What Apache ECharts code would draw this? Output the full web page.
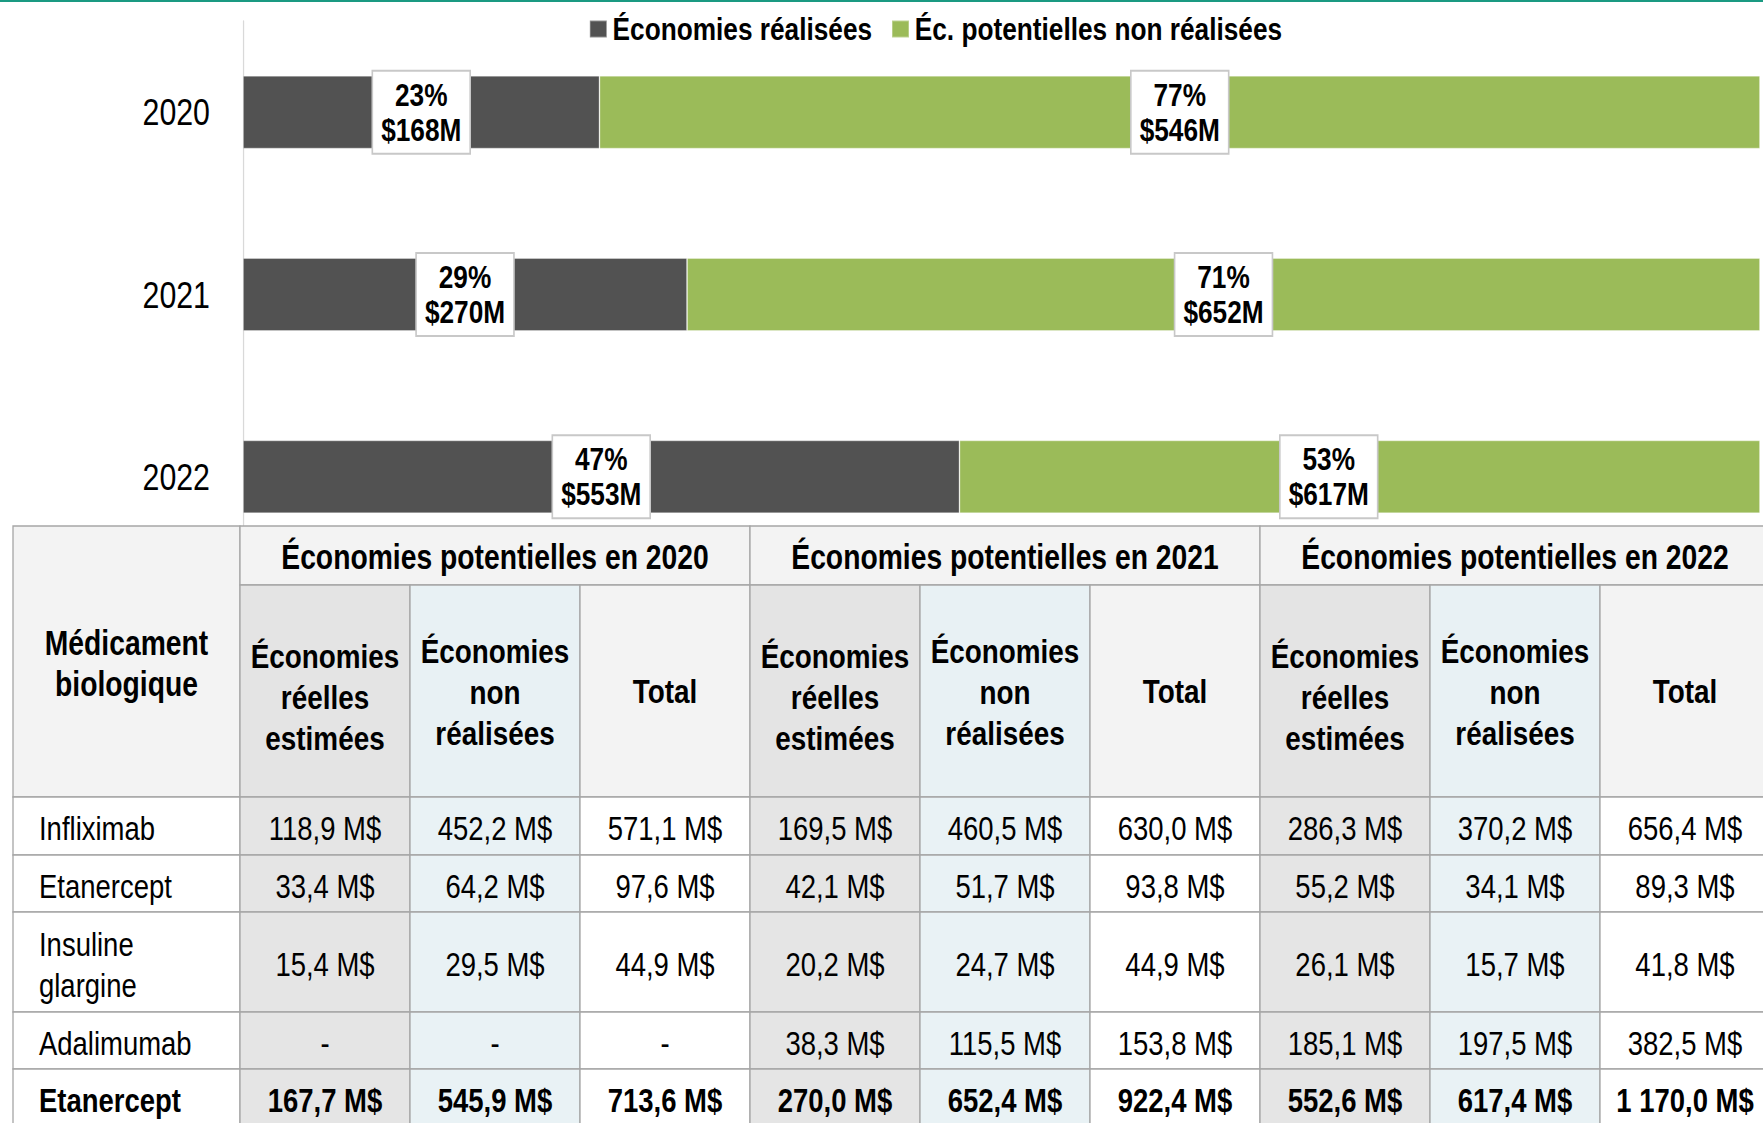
<!DOCTYPE html>
<html>
<head>
<meta charset="utf-8">
<script src="https://cdn.jsdelivr.net/npm/echarts@6/dist/echarts.min.js"></script>
<style>
html,body{margin:0;padding:0;background:#fff;overflow:hidden;}
#wrap{position:relative;width:1763px;height:1123px;overflow:hidden;}
#chart{position:absolute;left:0;top:0;width:2150px;height:1123px;transform:scaleX(0.82);transform-origin:0 0;}
</style>
</head>
<body>
<div id="wrap"><div id="chart"></div></div>
<script>
// ---------- data ----------
const years = ['2020', '2021', '2022'];
const realizedTotals = [167.7, 270.0, 552.6];
const unrealizedTotals = [545.9, 652.4, 617.4];
const realizedPct = ['23%', '29%', '47%'];
const unrealizedPct = ['77%', '71%', '53%'];
const realizedAmt = ['$168M', '$270M', '$553M'];
const unrealizedAmt = ['$546M', '$652M', '$617M'];
const legendNames = ['Économies réalisées', 'Éc. potentielles non réalisées'];

const groupTitles = ['Économies potentielles en 2020', 'Économies potentielles en 2021', 'Économies potentielles en 2022'];
const subHeaders = ['Économies\nréelles\nestimées', 'Économies\nnon\nréalisées', 'Total'];
const drugHeader = 'Médicament\nbiologique';
const drugNames = ['Infliximab', 'Etanercept', 'Insuline\nglargine', 'Adalimumab', 'Etanercept'];
// per year: [estimated real, non-realized, total] per drug row (last row = total row)
const real2020 = [118.9, 33.4, 15.4, null, 167.7];
const nonReal2020 = [452.2, 64.2, 29.5, null, 545.9];
const total2020 = [571.1, 97.6, 44.9, null, 713.6];
const real2021 = [169.5, 42.1, 20.2, 38.3, 270.0];
const nonReal2021 = [460.5, 51.7, 24.7, 115.5, 652.4];
const total2021 = [630.0, 93.8, 44.9, 153.8, 922.4];
const real2022 = [286.3, 55.2, 26.1, 185.1, 552.6];
const nonReal2022 = [370.2, 34.1, 15.7, 197.5, 617.4];
const total2022 = [656.4, 89.3, 41.8, 382.5, 1170.0];

// ---------- helpers ----------
const SX = 0.82; // horizontal squeeze of the whole drawing (narrow-font look)
const X = v => v / SX;
const FONT = '"Liberation Sans", Arial, sans-serif';
function fmt(v) {
  if (v === null) return '-';
  const parts = v.toFixed(1).split('.');
  const intp = parts[0].replace(/\B(?=(\d{3})+(?!\d))/g, ' ');
  return intp + ',' + parts[1] + ' M$';
}
const shareR = realizedTotals.map((r, i) => r / (r + unrealizedTotals[i]));
const shareU = unrealizedTotals.map((u, i) => u / (realizedTotals[i] + u));

// ---------- table layout (graphic) ----------
const colX = [13, 240, 410, 580, 750, 920, 1090, 1260, 1430, 1600, 1770].map(X);
const rowY = [526, 585, 797, 855, 912, 1012, 1069, 1127];
const STROKE = '#a6a6a6';
const graphics = [];
graphics.push({type: 'rect', z: 120, shape: {x: 0, y: 0, width: X(1763), height: 2}, style: {fill: '#1a9a82'}});
function cell(x0, y0, x1, y1, fill) {
  graphics.push({type: 'rect', z: 100, shape: {x: x0, y: y0, width: x1 - x0, height: y1 - y0},
    style: {fill: fill, stroke: STROKE, lineWidth: 1.6}});
}
function txt(x, y, s, opts) {
  graphics.push({type: 'text', z: 110, style: Object.assign({
    x: x, y: y, text: s, fill: '#000', fontSize: 33.5, fontFamily: FONT,
    align: 'center', verticalAlign: 'middle', lineHeight: 41}, opts || {})});
}
const yearCols = [[real2020, nonReal2020, total2020], [real2021, nonReal2021, total2021], [real2022, nonReal2022, total2022]];
const subFill = ['#e4e4e4', '#e8f1f4', '#f3f3f3'];
const dataFill = ['#e5e5e5', '#e9f2f5', '#ffffff'];
const subOffset = [7, 2, 1];

cell(colX[0], rowY[0], colX[1], rowY[2], '#f3f3f3');
txt((colX[0] + colX[1]) / 2, 663, drugHeader, {fontWeight: 'bold', fontSize: 34.5});
for (let g = 0; g < 3; g++) {
  const a = colX[1 + 3 * g], b = colX[4 + 3 * g];
  cell(a, rowY[0], b, rowY[1], '#f3f3f3');
  txt((a + b) / 2, (rowY[0] + rowY[1]) / 2 + 1, groupTitles[g], {fontWeight: 'bold', fontSize: 34.5});
  for (let k = 0; k < 3; k++) {
    const c0 = colX[1 + 3 * g + k], c1 = colX[2 + 3 * g + k];
    cell(c0, rowY[1], c1, rowY[2], subFill[k]);
    txt((c0 + c1) / 2, (rowY[1] + rowY[2]) / 2 + subOffset[k], subHeaders[k], {fontWeight: 'bold', fontSize: 34});
  }
}
for (let r = 0; r < drugNames.length; r++) {
  const y0 = rowY[2 + r], y1 = rowY[3 + r];
  const bold = r === drugNames.length - 1 ? 'bold' : 'normal';
  const cy = (y0 + y1) / 2 + 2;
  cell(colX[0], y0, colX[1], y1, '#ffffff');
  txt(colX[0] + X(26), cy, drugNames[r], {align: 'left', fontWeight: bold});
  for (let g = 0; g < 3; g++) {
    for (let k = 0; k < 3; k++) {
      const c0 = colX[1 + 3 * g + k], c1 = colX[2 + 3 * g + k];
      cell(c0, y0, c1, y1, dataFill[k]);
      txt((c0 + c1) / 2, cy, fmt(yearCols[g][k][r]), {fontWeight: bold});
    }
  }
}

// ---------- chart ----------
const chart = echarts.init(document.getElementById('chart'), null, {renderer: 'svg'});
const labelBase = {
  show: true, position: 'inside', color: '#000', fontFamily: FONT, fontWeight: 'bold',
  fontSize: 32, lineHeight: 35, backgroundColor: '#fff', borderColor: '#c8c8c8', borderWidth: 2,
  padding: [6, X(8), 5, X(8)], align: 'center'
};
// the 2022 unrealized label sits a little left of its segment centre in the reference
const unrealizedData = shareU.map((v, i) => i === 2 ? {value: v, label: {offset: [X(-31), 0]}} : v);
chart.setOption({
  animation: false,
  legend: {
    data: legendNames, left: X(589), top: 13, padding: 0, itemWidth: X(17), itemHeight: 17, itemGap: X(19),
    icon: 'rect', textStyle: {fontFamily: FONT, fontWeight: 'bold', fontSize: 32, color: '#000', padding: [0, 0, 0, 2]}
  },
  grid: {left: X(243), top: 21, width: X(1517), height: 547, containLabel: false},
  xAxis: {type: 'value', min: 0, max: 1, show: false},
  yAxis: {
    type: 'category', data: years, inverse: true,
    axisLine: {show: true, lineStyle: {color: '#d9d9d9', width: 1.5}},
    axisTick: {show: false},
    axisLabel: {fontFamily: FONT, fontSize: 37, color: '#000', margin: X(33)}
  },
  series: [
    {
      name: legendNames[0], type: 'bar', stack: 'tot', barWidth: 73, data: shareR,
      itemStyle: {color: '#525252', borderColor: 'rgba(255,255,255,0.35)', borderWidth: 1},
      label: Object.assign({}, labelBase, {formatter: p => realizedPct[p.dataIndex] + '\n' + realizedAmt[p.dataIndex]})
    },
    {
      name: legendNames[1], type: 'bar', stack: 'tot', barWidth: 73, data: unrealizedData,
      itemStyle: {color: '#9bbb59', borderColor: 'rgba(255,255,255,0.35)', borderWidth: 1},
      label: Object.assign({}, labelBase, {formatter: p => unrealizedPct[p.dataIndex] + '\n' + unrealizedAmt[p.dataIndex]})
    }
  ],
  graphic: graphics
});
</script>
</body>
</html>
